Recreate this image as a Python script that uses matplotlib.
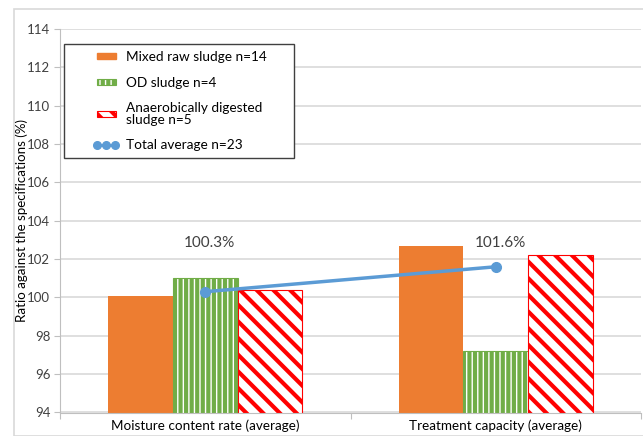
import numpy as np
import matplotlib
matplotlib.use("Agg")
from matplotlib import pyplot as plt
from matplotlib.patches import Rectangle
from matplotlib.lines import Line2D
from matplotlib.legend_handler import HandlerPatch, HandlerLine2D

categories = ["Moisture content rate (average)", "Treatment capacity (average)"]
mixed_raw = [100.1, 102.7]
od_sludge = [101.0, 97.2]
anaerobic = [100.4, 102.2]
total_avg = [100.3, 101.6]
avg_labels = ["100.3%", "101.6%"]
series_names = ["Mixed raw sludge n=14", "OD sludge n=4",
                "Anaerobically digested\nsludge n=5", "Total average n=23"]
y_ticks = list(range(94, 115, 2))

plt.rcParams['font.family'] = ['Lato', 'DejaVu Sans']
plt.rcParams['hatch.linewidth'] = 3.0

ORANGE = "#ED7D31"
GREEN = "#70AD47"
RED = "#FF0000"
BLUE = "#5B9BD5"
TXT = "#404040"

W, H = 643, 436
fig = plt.figure(figsize=(W / 100, H / 100), dpi=100)
ax = fig.add_axes([60 / W, 1 - 412.5 / H, 581 / W, 383.5 / H])

# outer chart border
fig.patches.append(Rectangle((14 / W, 0), 640 / W, (H - 9) / H,
                             transform=fig.transFigure, fill=False,
                             edgecolor="#D9D9D9", linewidth=1.2, zorder=0))

x = np.arange(len(categories))
w = 1 / 4.5
ax.bar(x - w, mixed_raw, w, color=ORANGE, zorder=2)
ax.bar(x, od_sludge, w, facecolor="white", edgecolor=GREEN, hatch="|||",
       linewidth=0.8, zorder=2)
ax.bar(x + w, anaerobic, w, facecolor="white", edgecolor=RED, hatch="\\\\",
       linewidth=0.8, zorder=2)
ax.plot(x, total_avg, color=BLUE, linewidth=2.5, marker="o", markersize=7, zorder=3)

for xi, lab in zip(x, avg_labels):
    ax.text(xi + 0.015, 102.84, lab, ha="center", va="center",
            fontsize=11, color=TXT)

ax.set_xlim(-0.5, 1.5)
ax.set_ylim(94, 114)
ax.set_yticks(y_ticks)
ax.set_xticks([-0.5, 0.5, 1.5])
ax.set_xticklabels([])
ax.set_xticks(x, minor=True)
ax.set_xticklabels(categories, minor=True, fontsize=9.7, color="black")
ax.tick_params(axis="x", which="minor", length=0, pad=5)
ax.tick_params(axis="x", which="major", length=4, color="#BFBFBF")
ax.tick_params(axis="y", length=4, color="#BFBFBF", labelsize=9.5, labelcolor=TXT, pad=3)
ax.grid(axis="y", color="#D9D9D9", linewidth=1.2, zorder=0)
ax.set_axisbelow(True)
for s in ["top", "right"]:
    ax.spines[s].set_visible(False)
ax.spines["left"].set_color("#BFBFBF")
ax.spines["bottom"].set_color("#BFBFBF")
ax.set_ylabel("Ratio against the specifications (%)", fontsize=9.6, color="black", labelpad=-1)


# small patch on the right side of the handle box, like the reference
def small_patch(legend, orig_handle, xdescent, ydescent, width, height, fontsize):
    pw, ph = 19 * 0.72, 6 * 0.72
    return Rectangle((width - pw - 2 - xdescent, height / 2 - ph / 2 - ydescent), pw, ph)


handles = [
    Rectangle((0, 0), 1, 1, color=ORANGE),
    Rectangle((0, 0), 1, 1, facecolor="white", edgecolor=GREEN, hatch="|||", linewidth=0.8),
    Rectangle((0, 0), 1, 1, facecolor="white", edgecolor=RED, hatch="\\\\", linewidth=0.8),
    Line2D([0], [0], color=BLUE, linewidth=2, marker="o", markersize=5.5),
]
hmap = {h: HandlerPatch(patch_func=small_patch) for h in handles[:3]}
hmap[handles[3]] = HandlerLine2D(numpoints=3)
leg = ax.legend(handles, series_names, handler_map=hmap, loc="upper left",
                bbox_to_anchor=(93 / W, 1 - 51 / H), bbox_transform=fig.transFigure,
                fontsize=9.8, frameon=False, handlelength=1.9, labelspacing=1.0,
                borderpad=0, borderaxespad=0, handletextpad=0.5)
for t in leg.get_texts():
    t.set_linespacing(0.95)
leg.set_zorder(5)

# legend frame, drawn inside the axes so it stays under the legend entries
ax.add_patch(Rectangle((64 / W, 1 - 158 / H), 230 / W, 114 / H,
                       transform=fig.transFigure, facecolor="white",
                       edgecolor="#404040", linewidth=1.0, zorder=4, clip_on=False))

fig.savefig("out.png", dpi=100)
